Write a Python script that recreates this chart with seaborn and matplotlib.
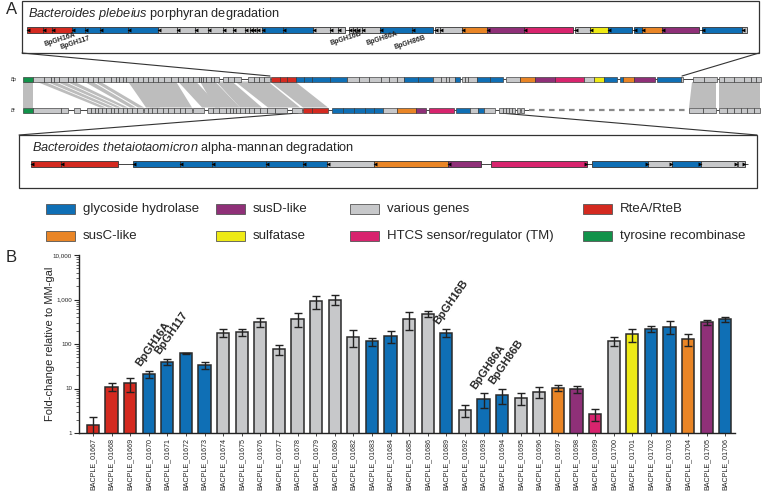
# Figura: mapa genético (A) e expressão relativa dos genes BACPLE (B)

import numpy as np
import pandas as pd
import matplotlib
matplotlib.use('Agg')
import matplotlib.pyplot as plt
import seaborn as sns
from matplotlib.patches import Rectangle
from matplotlib.ticker import LogLocator, FuncFormatter, NullFormatter

sns.set_style('white')
plt.rcParams['font.family'] = ['Liberation Sans', 'DejaVu Sans']
plt.rcParams['mathtext.fontset'] = 'custom'
plt.rcParams['mathtext.it'] = 'Liberation Sans:italic'
plt.rcParams['mathtext.rm'] = 'Liberation Sans'

# --- Cores por classe de gene ---
cores = {'B': '#0f6fb5', 'R': '#d42a20', 'G': '#c7c8ca', 'O': '#e98526',
         'P': '#8f3078', 'Y': '#eeea16', 'K': '#d8246e', 'N': '#12924a'}

# --- Painel B: dados ---
genes = ['BACPLE_01667', 'BACPLE_01668', 'BACPLE_01669', 'BACPLE_01670', 'BACPLE_01671',
         'BACPLE_01672', 'BACPLE_01673', 'BACPLE_01674', 'BACPLE_01675', 'BACPLE_01676',
         'BACPLE_01677', 'BACPLE_01678', 'BACPLE_01679', 'BACPLE_01680', 'BACPLE_01682',
         'BACPLE_01683', 'BACPLE_01684', 'BACPLE_01685', 'BACPLE_01686', 'BACPLE_01689',
         'BACPLE_01692', 'BACPLE_01693', 'BACPLE_01694', 'BACPLE_01695', 'BACPLE_01696',
         'BACPLE_01697', 'BACPLE_01698', 'BACPLE_01699', 'BACPLE_01700', 'BACPLE_01701',
         'BACPLE_01702', 'BACPLE_01703', 'BACPLE_01704', 'BACPLE_01705', 'BACPLE_01706']
tipo_gene = list('RRRBBBBGGGGGGGGBBGGBGBBGGOPKGYBBOPB')
fold = [1.5, 11, 13, 21, 40, 62, 33.5, 181, 186, 316, 77, 370, 910, 1000, 147,
        114, 152, 363, 480, 181, 3.3, 5.7, 7.2, 6.0, 8.4, 10.5, 9.8, 2.7, 118, 164,
        223, 246, 129, 310, 363]
erro = [0.8, 2.2, 4.5, 4, 7, 2, 6.5, 35, 32, 77, 19, 130, 290, 250, 61,
        25, 48, 160, 80, 39, 1.0, 2.1, 2.8, 1.8, 2.3, 1.5, 1.8, 0.8, 29, 52,
        37, 79, 41, 40, 49]
rotulos_barras = ['BpGH16A', 'BpGH117', 'BpGH16B', 'BpGH86A', 'BpGH86B']
idx_rotulos = [3, 4, 19, 21, 22]

# --- Painel A: mapas (unidades do mapa; '-' = ligação, 'D' = tracejado) ---
topo_inicio = 27
topo_tipos = 'RRRBBBBGGGGGGGGGGBBGGG-GGGGBB-GGOPK-GYB-BOP-BG'
topo_comp = [16, 9, 20, 13, 15, 28, 30, 19, 18, 13, 15, 10, 12, 5, 3, 4, 5, 21, 30,
             17, 8, 7, 4, 4, 4, 5, 18, 32, 21, 2, 5, 22, 25, 37, 49, 2, 15, 18, 24,
             2, 8, 20, 37, 3, 40, 5]
topo_rotulos = ['BpGH16A', 'BpGH117', 'BpGH16B', 'BpGH86A', 'BpGH86B']
topo_rot_x = [45, 61, 332, 368, 395]
topo_rot_y = [48, 51, 47, 47, 51]

inf_inicio = 31
inf_tipos = 'RR-BBBBBGOP-K-BGBG-G-'
inf_comp = [30, 57, 15, 47, 32, 54, 37, 24, 47, 74, 33, 10, 96, 5, 56, 24, 29, 36, 1, 7, 3]
inf_fitas = '-' * 12 + '+' * 9

bp_inicio = 23
bp_tipos = ('N' + 'G' * 36 + '-GGG-GGGG-RRRBBBBGGGGGGBBGGGGB-GGGBB-GOPKGYB-BOP-BG-GG-GGGGGG')
bp_comp = ([9.5] + [11, 7, 3, 5, 9, 5, 3, 7, 5, 5, 5, 6, 7, 5, 3, 4, 3, 7, 5, 5, 5, 5,
                    5, 6, 7, 7, 5, 5, 5, 6, 2, 2, 3, 5, 3, 5]
           + [4, 5, 6, 7, 7, 6, 5, 5, 6, 1, 9, 7, 9, 8, 8, 18, 17, 12, 10, 12, 8, 8, 7,
              14, 15, 8, 5, 3, 6, 5, 2, 3, 3, 9, 13, 13, 3, 14, 15, 20, 29, 10, 10, 13,
              3, 3, 11, 21, 2, 24, 2, 10, 11, 13, 2, 5, 10, 10, 7, 5, 5])

bt_inicio = 23
bt_tipos = ('NGG-G-' + 'G' * 13 + '-' + 'G' * 9 + '-G-' + 'G' * 14
            + '-G-RR-BBBBBGOP-K-BGBG-GGGGG-G-G-D' + 'GG-GGGGGG')
bt_comp = ([9.5, 28.5, 7, 6, 6, 7] + [4, 4, 3, 4, 4, 5, 3, 4, 5, 4, 5, 5, 6] + [1]
           + [4, 4, 5, 6, 5, 6, 6, 5, 7] + [1, 11, 4]
           + [5, 6, 7, 4, 3, 3, 4, 5, 4, 5, 6, 7, 8, 12]
           + [5, 10, 1, 9, 16, 4, 11, 11, 11, 9, 9, 14, 19, 10, 3, 25, 2, 14, 8, 6, 11,
              4, 4, 3, 3, 3, 3, 2, 3, 1, 3, 5, 160]
           + [14, 13, 3, 8, 7, 7, 6, 7, 6])

# regiões homólogas entre Bp e Bt: (início Bp, fim Bp, início Bt, fim Bt)
bandas = [(23, 32.5, 23, 32.5), (36, 44, 100, 106), (46, 54, 108, 114), (56, 64, 116, 121),
          (66, 74, 123, 128), (84, 92, 130, 136), (94, 100, 138, 144), (128, 140, 146, 160),
          (140, 176, 150, 192), (178, 196, 202, 220), (200, 215, 215, 240),
          (216, 232, 240, 262), (235, 268, 268, 300), (270, 295, 303, 328),
          (692, 716, 689, 716), (719, 760, 719, 760)]

leg_rotulos = ['glycoside hydrolase', 'susD-like', 'various genes', 'RteA/RteB',
               'susC-like', 'sulfatase', 'HTCS sensor/regulator (TM)', 'tyrosine recombinase']
leg_tipos = ['B', 'P', 'G', 'R', 'O', 'Y', 'K', 'N']


def desenha_linha(ax, y, inicio, tipos, comps, altura, lw, fitas=None, setas=False):
    comps = np.asarray(comps, dtype=float)
    tipos = list(tipos)
    assert len(tipos) == len(comps), (len(tipos), len(comps))
    pos = inicio + np.concatenate([[0], np.cumsum(comps)[:-1]])
    eh_gene = np.array([t not in '-D' for t in tipos])
    for t, x0, w in zip(tipos, pos, comps):
        if t == '-':
            ax.hlines(y, x0, x0 + w, color='#444444', lw=0.7, zorder=2)
        elif t == 'D':
            ax.hlines(y, x0, x0 + w, color='#8a8a8a', lw=1.6, linestyles=(0, (2.5, 2)), zorder=2)
    ax.barh([y] * eh_gene.sum(), comps[eh_gene], left=pos[eh_gene], height=altura,
            color=[cores[t] for t, g in zip(tipos, eh_gene) if g],
            edgecolor='#333333', linewidth=lw, zorder=3)
    if setas:
        fitas = fitas if fitas is not None else '-' * len(tipos)
        for t, x0, w, f in zip(tipos, pos, comps, fitas):
            if t in '-D':
                continue
            if f == '-':
                ax.scatter(x0 + 1.3, y, marker='<', s=8, color='black', lw=0, zorder=4)
            else:
                ax.scatter(x0 + w - 1.3, y, marker='>', s=8, color='black', lw=0, zorder=4)


fig = plt.figure(figsize=(7.62, 4.93), dpi=100)

# --- Painel A ---
ax_a = fig.add_axes([0, 1 - 255 / 493, 1, 255 / 493])
ax_a.set_xlim(0, 762)
ax_a.set_ylim(255, 0)
ax_a.axis('off')

# caixas de detalhe
ax_a.add_patch(Rectangle((22, 1), 737, 52, fill=True, facecolor='white',
                         edgecolor='#333333', lw=0.9, zorder=1))
ax_a.add_patch(Rectangle((19, 135), 738, 53, fill=True, facecolor='white',
                         edgecolor='#333333', lw=0.9, zorder=1))
ax_a.plot([22, 270], [53, 76], color='#333333', lw=0.8)
ax_a.plot([759, 682], [53, 76], color='#333333', lw=0.8)
ax_a.plot([298, 19], [113, 135], color='#333333', lw=0.8)
ax_a.plot([500, 757], [113, 135], color='#333333', lw=0.8)

ax_a.text(28, 14, r'$\it{Bacteroides\ plebeius}$ porphyran degradation',
          fontsize=9.2, va='center', ha='left')
ax_a.text(32, 148, r'$\it{Bacteroides\ thetaiotaomicron}$ alpha-mannan degradation',
          fontsize=9.2, va='center', ha='left')

desenha_linha(ax_a, 30, topo_inicio, topo_tipos, topo_comp, 6.5, 0.6, setas=True)
desenha_linha(ax_a, 164, inf_inicio, inf_tipos, inf_comp, 6.5, 0.6, fitas=inf_fitas, setas=True)
for r, x, y in zip(topo_rotulos, topo_rot_x, topo_rot_y):
    ax_a.text(x, y, r, fontsize=5, rotation=18, ha='left', va='bottom',
              rotation_mode='anchor', fontweight='bold')

# linhas Bp e Bt com as regiões homólogas
for bp0, bp1, bt0, bt1 in bandas:
    ax_a.fill([bp0, bp1, bt1, bt0], [81.5, 81.5, 107.5, 107.5], color='#bdbdbd', lw=0, zorder=1)
desenha_linha(ax_a, 79, bp_inicio, bp_tipos, bp_comp, 5, 0.45)
desenha_linha(ax_a, 110, bt_inicio, bt_tipos, bt_comp, 5, 0.45)
ax_a.text(11, 79, 'Bp', fontsize=3.5, style='italic', va='center')
ax_a.text(11, 110, 'Bt', fontsize=3.5, style='italic', va='center')

# legenda
leg_x = [46, 216, 350, 583]
leg_y = [209, 236]
for i, (rot, t) in enumerate(zip(leg_rotulos, leg_tipos)):
    x, y = leg_x[i % 4], leg_y[i // 4]
    ax_a.barh(y, 29, left=x, height=10, color=cores[t], edgecolor='#555555', lw=0.6)
    ax_a.text(x + 37, y, rot, fontsize=9.5, va='center', ha='left')

fig.text(6 / 762, 1 - 10 / 493, 'A', fontsize=12, va='center', ha='left')
fig.text(6 / 762, 1 - 258 / 493, 'B', fontsize=12, va='center', ha='left')

# --- Painel B ---
df = pd.DataFrame({'gene': genes, 'fold': fold, 'tipo': tipo_gene})
ax_b = fig.add_axes([79 / 762, 1 - 433 / 493, 655.6 / 762, 178 / 493])
sns.barplot(data=df, x='gene', y='fold', hue='gene',
            palette=[cores[t] for t in tipo_gene], legend=False, errorbar=None,
            edgecolor='#2a2a2a', linewidth=1.1, width=0.66, saturation=1, ax=ax_b)
ax_b.set_yscale('log')
ax_b.errorbar(np.arange(len(genes)), fold, yerr=erro, fmt='none', ecolor='#222222',
              elinewidth=1, capsize=3, capthick=1, zorder=5)
ax_b.set_ylim(1, 10000)
ax_b.set_xlim(-0.75, 34.5)

ax_b.yaxis.set_major_locator(LogLocator(base=10, numticks=10))
ax_b.yaxis.set_minor_locator(LogLocator(base=10, subs=np.arange(2, 10), numticks=20))
ax_b.yaxis.set_major_formatter(FuncFormatter(lambda v, p: f'{v:,.0f}'))
ax_b.yaxis.set_minor_formatter(NullFormatter())
ax_b.tick_params(axis='y', which='major', length=3.5, width=0.8, labelsize=4.5,
                 direction='out', left=True, pad=1.5)
ax_b.tick_params(axis='y', which='minor', length=2, width=0.5, direction='out', left=True)
ax_b.tick_params(axis='x', labelsize=5.1, rotation=90, length=2, width=0.6, bottom=True, pad=1.5)

ax_b.set_xlabel('')
ax_b.set_ylabel('Fold-change relative to MM-gal', fontsize=8)
ax_b.yaxis.set_label_coords(-0.036, 0.5)
sns.despine(ax=ax_b)
for s in ['left', 'bottom']:
    ax_b.spines[s].set_color('#222222')
    ax_b.spines[s].set_linewidth(1)

for rot, i in zip(rotulos_barras, idx_rotulos):
    ax_b.text(i - 0.35, (fold[i] + erro[i]) * 1.15, rot, fontsize=8, fontweight='bold',
              rotation=55, ha='left', va='bottom', rotation_mode='anchor')

fig.savefig('out.png', dpi=100)
